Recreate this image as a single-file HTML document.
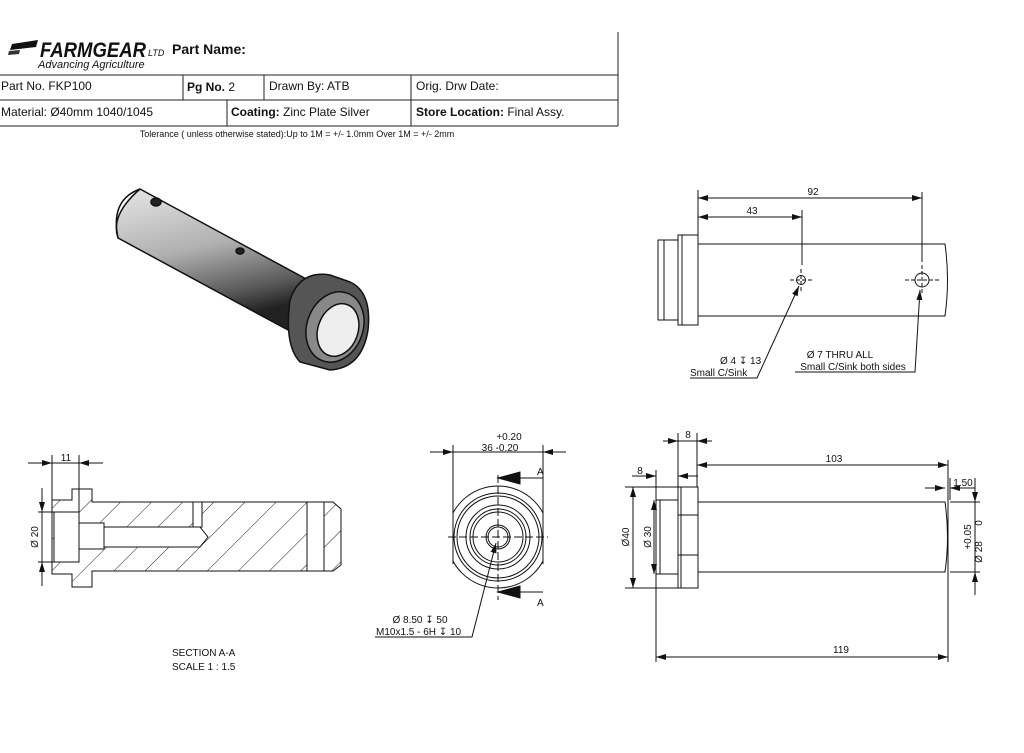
<!DOCTYPE html>
<html><head><meta charset="utf-8"><style>
html,body{margin:0;padding:0;background:#fff;}
svg{display:block;}
text{font-family:"Liberation Sans",sans-serif;fill:#111;}
.h{font-size:12px;}
.d{font-size:10px;}
</style></head><body>
<svg width="1024" height="753" viewBox="0 0 1024 753" xmlns="http://www.w3.org/2000/svg">
<defs>
<marker id="a" viewBox="0 0 10 6" refX="10" refY="3" markerWidth="10" markerHeight="6" orient="auto-start-reverse" markerUnits="userSpaceOnUse"><path d="M0,0L10,3L0,6z" fill="#111"/></marker>
<linearGradient id="g" x1="0" y1="0" x2="0.3" y2="1"><stop offset="0" stop-color="#e6e6e6"/><stop offset="0.5" stop-color="#b0b0b0"/><stop offset="0.85" stop-color="#555"/><stop offset="1" stop-color="#222"/></linearGradient>
<pattern id="hat" width="22" height="22" patternUnits="userSpaceOnUse" patternTransform="rotate(45)"><line x1="0" y1="0" x2="0" y2="22" stroke="#222" stroke-width="1"/></pattern>
</defs>
<g stroke="#222" fill="none" stroke-width="1">
<line x1="618" y1="32" x2="618" y2="126"/>
<line x1="0" y1="75" x2="618" y2="75"/>
<line x1="0" y1="100" x2="618" y2="100"/>
<line x1="0" y1="126" x2="618" y2="126"/>
<line x1="183" y1="75" x2="183" y2="100"/>
<line x1="264" y1="75" x2="264" y2="100"/>
<line x1="411" y1="75" x2="411" y2="126"/>
<line x1="227" y1="100" x2="227" y2="126"/>
</g>
<path d="M12,44 L38,40 L36,47 L10,50z" fill="#111"/>
<path d="M9,51 L20,50 L19,54 L8,55z" fill="#333"/>
<text x="40" y="57" textLength="106" lengthAdjust="spacingAndGlyphs" style="font-size:21px;font-style:italic;font-weight:bold">FARMGEAR</text>
<text x="148" y="56" style="font-size:9px;font-style:italic">LTD</text>
<text x="172" y="54" style="font-size:14px;font-weight:bold">Part Name:</text>
<text x="38" y="68" style="font-size:11px;font-style:italic">Advancing Agriculture</text>
<text class="h" x="1" y="90">Part No. FKP100</text>
<text class="h" x="187" y="91" style="font-weight:bold">Pg No. <tspan font-weight="normal">2</tspan></text>
<text class="h" x="269" y="90">Drawn By: ATB</text>
<text class="h" x="416" y="90">Orig. Drw Date:</text>
<text class="h" x="1" y="116">Material: Ø40mm 1040/1045</text>
<text class="h" x="231" y="116"><tspan font-weight="bold">Coating:</tspan> Zinc Plate Silver</text>
<text class="h" x="416" y="116"><tspan font-weight="bold">Store Location:</tspan> Final Assy.</text>
<text x="297" y="137" text-anchor="middle" style="font-size:9px">Tolerance ( unless otherwise stated):Up to 1M = +/- 1.0mm Over 1M = +/- 2mm</text>

<g stroke="#111" stroke-width="1.5">
<path d="M140,189 L308,280 L288,330 L118,238 Q110,215 140,189z" fill="url(#g)"/>
<path d="M140,189 Q110,200 118,238" fill="none"/>
<path d="M290,300 Q300,270 330,275 L350,282 Q372,292 368,330 Q362,368 330,370 L300,362 Q284,345 290,300z" fill="#555"/>
<ellipse cx="335" cy="327" rx="28" ry="36" transform="rotate(20 335 327)" fill="#888"/>
<ellipse cx="338" cy="330" rx="20" ry="27" transform="rotate(20 338 330)" fill="#eee"/>
<ellipse cx="156" cy="202" rx="5" ry="4" fill="#222"/>
<ellipse cx="240" cy="251" rx="4" ry="3" fill="#222"/>
</g>

<g stroke="#111" fill="none" stroke-width="1">
<rect x="658" y="240" width="20" height="80"/>
<line x1="664" y1="240" x2="664" y2="320"/>
<rect x="678" y="235" width="20" height="90"/>
<line x1="682" y1="235" x2="682" y2="325"/>
<path d="M698,244 L945,244 Q950,280 945,316 L698,316"/>
<circle cx="801" cy="280" r="4.5"/>
<circle cx="922" cy="280" r="7"/>
<path d="M790,280h22M801,269v22M905,280h34M922,265v30" stroke-dasharray="4 2"/>
<line x1="698" y1="190" x2="698" y2="235"/>
<line x1="802" y1="210" x2="802" y2="265"/>
<line x1="922" y1="192" x2="922" y2="262"/>
<line x1="698" y1="198" x2="922" y2="198" marker-start="url(#a)" marker-end="url(#a)"/>
<line x1="698" y1="217" x2="802" y2="217" marker-start="url(#a)" marker-end="url(#a)"/>
<polyline points="690,378 757,378 799,286" marker-end="url(#a)"/>
<polyline points="795,372 915,372 920,290" marker-end="url(#a)"/>
</g>
<text class="d" x="813" y="195" text-anchor="middle">92</text>
<text class="d" x="752" y="214" text-anchor="middle">43</text>
<text class="d" x="720" y="364">Ø 4 ↧ 13</text>
<text class="d" x="690" y="376">Small C/Sink</text>
<text class="d" x="840" y="358" text-anchor="middle">Ø 7 THRU ALL</text>
<text class="d" x="853" y="370" text-anchor="middle">Small C/Sink both sides</text>

<g stroke="#111" stroke-width="1">
<path d="M52,500 L72,500 L72,489 L92,489 L92,502 L333,502 L341,509 L341,565 L333,571 L92,571 L92,587 L72,587 L72,574 L52,574 Z" fill="url(#hat)"/>
<rect x="54" y="512" width="25" height="50" fill="#fff"/>
<rect x="79" y="523" width="25" height="26" fill="#fff"/>
<path d="M104,527 L200,527 L208,537 L200,547 L104,547Z" fill="#fff"/>
<rect x="193" y="502" width="9" height="25" fill="#fff"/>
<rect x="307" y="502" width="17" height="69" fill="#fff"/>
<line x1="52" y1="455" x2="52" y2="500" fill="none"/>
<line x1="79" y1="455" x2="79" y2="512" fill="none"/>
<line x1="28" y1="463" x2="52" y2="463" marker-end="url(#a)"/>
<line x1="103" y1="463" x2="79" y2="463" marker-end="url(#a)"/>
<line x1="52" y1="463" x2="79" y2="463"/>
<line x1="38" y1="512" x2="54" y2="512"/>
<line x1="38" y1="562" x2="54" y2="562"/>
<line x1="42" y1="488" x2="42" y2="512" marker-end="url(#a)"/>
<line x1="42" y1="586" x2="42" y2="562" marker-end="url(#a)"/>
<line x1="42" y1="512" x2="42" y2="562"/>
</g>
<text class="d" x="66" y="461" text-anchor="middle">11</text>
<text class="d" transform="translate(38,537) rotate(-90)" text-anchor="middle">Ø 20</text>
<text class="d" x="172" y="656">SECTION A-A</text>
<text class="d" x="172" y="670">SCALE 1 : 1.5</text>

<g stroke="#111" fill="none" stroke-width="1">
<clipPath id="cf"><rect x="453" y="470" width="90" height="140"/></clipPath>
<g clip-path="url(#cf)"><circle cx="498" cy="537" r="51"/></g>
<line x1="453" y1="510" x2="453" y2="564"/>
<line x1="543" y1="510" x2="543" y2="564"/>
<circle cx="498" cy="537" r="44"/>
<circle cx="498" cy="537" r="41"/>
<circle cx="498" cy="537" r="32"/>
<circle cx="498" cy="537" r="28"/>
<circle cx="498" cy="537" r="25"/>
<circle cx="498" cy="537" r="12"/>
<circle cx="498" cy="537" r="10"/>
<path d="M448,537h100M498,475v125" stroke-dasharray="8 3"/>
<line x1="453" y1="445" x2="453" y2="510"/>
<line x1="543" y1="445" x2="543" y2="510"/>
<line x1="430" y1="452" x2="453" y2="452" marker-end="url(#a)"/>
<line x1="566" y1="452" x2="543" y2="452" marker-end="url(#a)"/>
<line x1="453" y1="452" x2="543" y2="452"/>
<line x1="543" y1="478" x2="499" y2="478"/>
<path d="M498,478 L520,472 L520,484Z" fill="#111"/>
<line x1="543" y1="592" x2="499" y2="592"/>
<path d="M498,592 L520,586 L520,598Z" fill="#111"/>
<polyline points="375,637 472,637 496,543" marker-end="url(#a)"/>
</g>
<text class="d" x="509" y="440" text-anchor="middle">+0.20</text>
<text class="d" x="500" y="451" text-anchor="middle">36 -0.20</text>
<text class="d" x="537" y="475">A</text>
<text class="d" x="537" y="606">A</text>
<text class="d" x="420" y="623" text-anchor="middle">Ø 8.50 ↧ 50</text>
<text class="d" x="376" y="635">M10x1.5 - 6H ↧ 10</text>

<g stroke="#111" fill="none" stroke-width="1">
<rect x="656" y="500" width="22" height="74"/>
<rect x="660" y="500" width="18" height="74"/>
<rect x="678" y="487" width="20" height="101"/>
<line x1="681" y1="487" x2="681" y2="588"/>
<line x1="678" y1="515" x2="698" y2="515"/>
<line x1="678" y1="555" x2="698" y2="555"/>
<path d="M698,502 L945,502 Q950,537 945,572 L698,572"/>
<line x1="678" y1="433" x2="678" y2="487"/>
<line x1="697" y1="433" x2="697" y2="487"/>
<line x1="663" y1="441" x2="678" y2="441" marker-end="url(#a)"/>
<line x1="712" y1="441" x2="697" y2="441" marker-end="url(#a)"/>
<line x1="678" y1="441" x2="697" y2="441"/>
<line x1="697" y1="465" x2="948" y2="465" marker-start="url(#a)" marker-end="url(#a)"/>
<line x1="948" y1="460" x2="948" y2="662"/>
<line x1="656" y1="470" x2="656" y2="662"/>
<line x1="632" y1="476" x2="656" y2="476"/>
<line x1="641" y1="476" x2="656" y2="476" marker-end="url(#a)"/>
<line x1="698" y1="476" x2="678" y2="476" marker-end="url(#a)"/>
<line x1="625" y1="487" x2="678" y2="487"/>
<line x1="625" y1="588" x2="678" y2="588"/>
<line x1="633" y1="487" x2="633" y2="588" marker-start="url(#a)" marker-end="url(#a)"/>
<line x1="654" y1="500" x2="654" y2="574" marker-start="url(#a)" marker-end="url(#a)"/>
<line x1="925" y1="488" x2="945" y2="488" marker-end="url(#a)"/>
<line x1="975" y1="488" x2="950" y2="488" marker-end="url(#a)"/>
<line x1="950" y1="478" x2="950" y2="500"/>
<line x1="950" y1="502" x2="980" y2="502"/>
<line x1="950" y1="572" x2="980" y2="572"/>
<line x1="975" y1="478" x2="975" y2="502" marker-end="url(#a)"/>
<line x1="975" y1="595" x2="975" y2="572" marker-end="url(#a)"/>
<line x1="975" y1="502" x2="975" y2="572"/>
<line x1="656" y1="657" x2="948" y2="657" marker-start="url(#a)" marker-end="url(#a)"/>
</g>
<text class="d" x="688" y="438" text-anchor="middle">8</text>
<text class="d" x="834" y="462" text-anchor="middle">103</text>
<text class="d" x="640" y="474" text-anchor="middle">8</text>
<text class="d" x="963" y="486" text-anchor="middle">1.50</text>
<text class="d" transform="translate(629,537) rotate(-90)" text-anchor="middle">Ø40</text>
<text class="d" transform="translate(651,537) rotate(-90)" text-anchor="middle">Ø 30</text>
<text class="d" transform="translate(971,537) rotate(-90)" text-anchor="middle">+0.05</text>
<text class="d" transform="translate(982,523) rotate(-90)" text-anchor="middle">0</text>
<text class="d" transform="translate(982,552) rotate(-90)" text-anchor="middle">Ø 28</text>
<text class="d" x="841" y="653" text-anchor="middle">119</text>
</svg>
</body></html>
